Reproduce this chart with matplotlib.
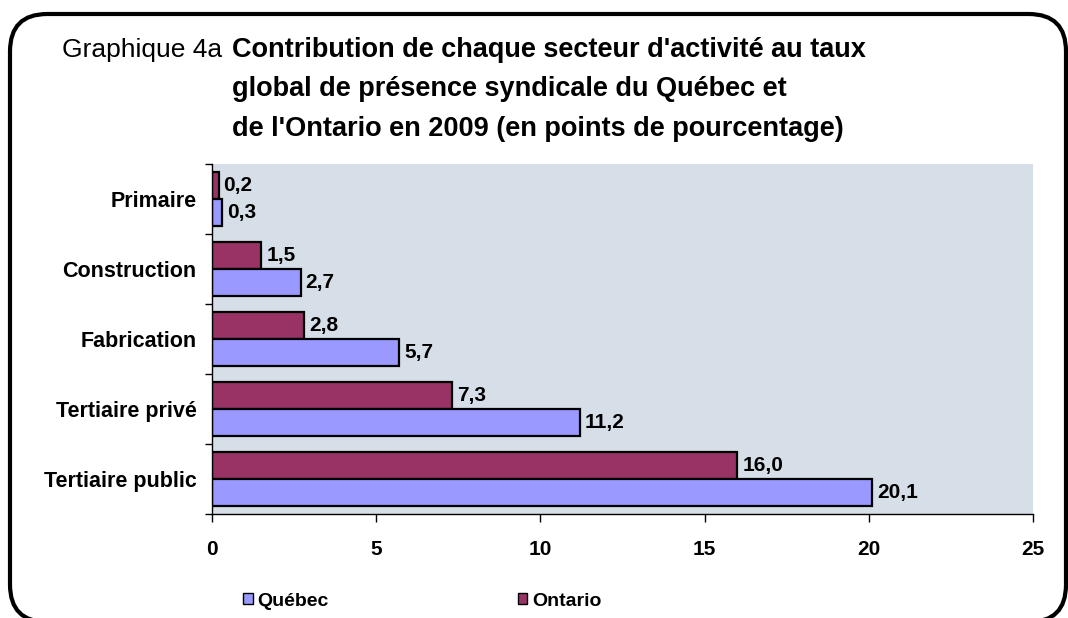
import matplotlib
matplotlib.use("Agg")
import matplotlib.pyplot as plt
import numpy as np
from matplotlib.patches import FancyBboxPatch, Patch

plt.rcParams['font.family'] = ['Liberation Sans', 'DejaVu Sans']

# data, top to bottom as drawn
secteurs = ["Primaire", "Construction", "Fabrication", "Tertiaire privé", "Tertiaire public"]
quebec = [0.3, 2.7, 5.7, 11.2, 20.1]
ontario = [0.2, 1.5, 2.8, 7.3, 16.0]
x_ticks = [0, 5, 10, 15, 20, 25]

col_qc = "#9999FF"
col_on = "#993366"

fig = plt.figure(figsize=(10.68, 6.18), dpi=100)
ax = fig.add_axes([212 / 1068, 1 - 514 / 618, (1033 - 212) / 1068, 350 / 618])
ax.set_facecolor("#D6DFE7")

y = np.arange(len(secteurs))
h = 0.39
ax.barh(y - h / 2, ontario, height=h, color=col_on, edgecolor="black", linewidth=1.6)
ax.barh(y + h / 2, quebec, height=h, color=col_qc, edgecolor="black", linewidth=1.6)

for yi, v in zip(y, ontario):
    ax.text(v + 0.15, yi - h / 2, f"{v:.1f}".replace(".", ","), va="center", ha="left",
            fontsize=15, fontweight="bold")
for yi, v in zip(y, quebec):
    ax.text(v + 0.15, yi + h / 2, f"{v:.1f}".replace(".", ","), va="center", ha="left",
            fontsize=15, fontweight="bold")

ax.set_xlim(0, 25)
ax.set_ylim(len(secteurs) - 0.5, -0.5)
ax.set_xticks(x_ticks)
ax.set_xticklabels([str(t) for t in x_ticks], fontsize=15, fontweight="bold")
ax.set_yticks(y)
ax.set_yticklabels(secteurs, fontsize=15.5, fontweight="bold")
ax.set_yticks(np.arange(len(secteurs) + 1) - 0.5, minor=True)
ax.tick_params(axis="y", which="major", length=0, pad=11)
ax.tick_params(axis="y", which="minor", length=5, width=1)
ax.tick_params(axis="x", length=6, width=1, pad=13)
for s in ["top", "right"]:
    ax.spines[s].set_visible(False)
ax.spines["left"].set_linewidth(1)
ax.spines["bottom"].set_linewidth(1)

# titles
fig.text(62 / 1068, 1 - 50 / 618, "Graphique 4a", fontsize=19, va="center", ha="left")
titre = ["Contribution de chaque secteur d'activité au taux",
         "global de présence syndicale du Québec et",
         "de l'Ontario en 2009 (en points de pourcentage)"]
for i, ligne in enumerate(titre):
    fig.text(232 / 1068, 1 - (50 + 39.5 * i) / 618, ligne, fontsize=19.5,
             fontweight="bold", va="center", ha="left")

# legend
handles = [Patch(facecolor=col_qc, edgecolor="black"), Patch(facecolor=col_on, edgecolor="black")]
fig.legend(handles, ["Québec", "Ontario"], loc="center left",
           bbox_to_anchor=(243 / 1068, 1 - 601 / 618), ncol=2, frameon=False,
           prop={"weight": "bold", "size": 14}, handlelength=0.5, handleheight=0.5,
           handletextpad=0.25, columnspacing=9.7, borderpad=0, borderaxespad=0)

# rounded frame
frame = FancyBboxPatch((10 / 1068, -4 / 618), 1056 / 1068, 1 - 14 / 618 + 4 / 618,
                       boxstyle="round,pad=0,rounding_size=0.035", transform=fig.transFigure,
                       facecolor="none", edgecolor="black", linewidth=3, clip_on=False,
                       mutation_aspect=1068 / 618)
fig.patches.append(frame)

fig.savefig("out.png", dpi=100)
